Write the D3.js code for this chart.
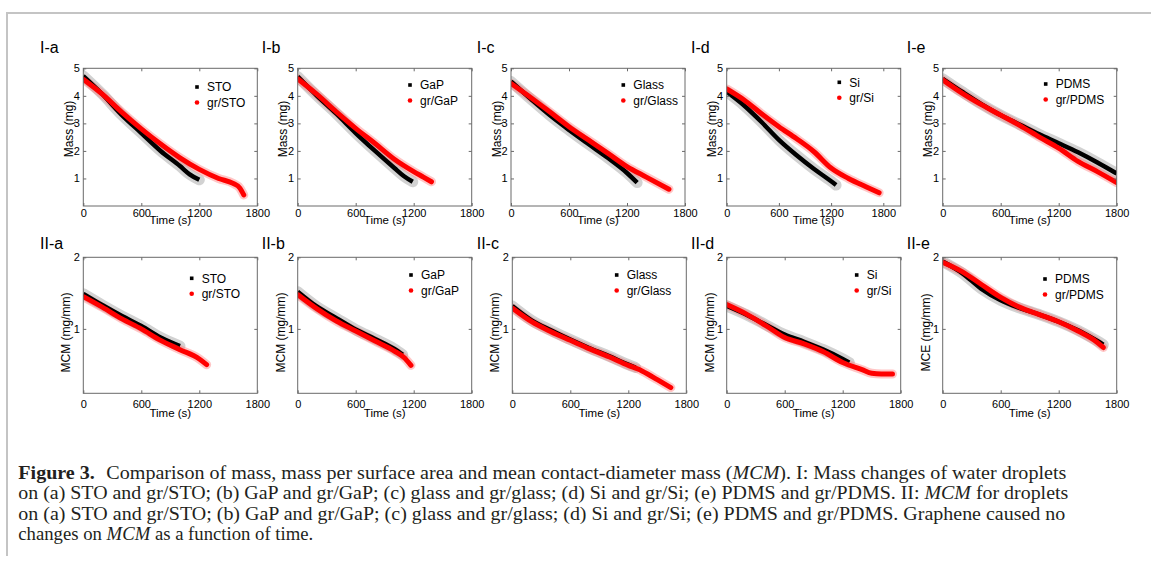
<!DOCTYPE html>
<html>
<head>
<meta charset="utf-8">
<script src="https://cdn.jsdelivr.net/npm/d3@7"></script>
<style>
  body { margin: 0; background: #fff; }
  svg { display: block; }
</style>
</head>
<body>
<svg id="fig" width="1151" height="562"></svg>
<script>
// categories and ticks
var substrates = ["STO", "GaP", "Glass", "Si", "PDMS"];
var letters = ["a", "b", "c", "d", "e"];
var massTicks = [1, 2, 3, 4, 5];
var mcmTicks = [1, 2];
var timeTicks = [0, 600, 1200, 1800];
var massTimeMax = [1800, 1800, 1800, 2000, 1800];
var mcmTimeMax = [1800, 1800, 1800, 1800, 1800];
var mcmLabels = ["MCM (mg/mm)", "MCM (mg/mm)", "MCM (mg/mm)", "MCM (mg/mm)", "MCE (mg/mm)"];

// row I: mass (mg) against time (s) as [t, value]
var massSTO     = [[0,4.72],[200,4.05],[400,3.3],[600,2.65],[800,2.0],[1000,1.45],[1100,1.15],[1200,0.95]];
var massGrSTO   = [[0,4.6],[200,4.05],[400,3.4],[600,2.8],[800,2.25],[1000,1.75],[1200,1.33],[1400,1.0],[1550,0.82],[1620,0.65],[1660,0.4]];
var massGaP     = [[0,4.7],[200,4.0],[400,3.35],[600,2.65],[800,2.0],[1000,1.38],[1100,1.08],[1190,0.88]];
var massGrGaP   = [[0,4.62],[200,4.05],[400,3.42],[600,2.82],[800,2.27],[1000,1.7],[1200,1.25],[1300,1.05],[1384,0.88]];
var massGlass   = [[0,4.52],[200,3.9],[400,3.3],[600,2.76],[800,2.25],[1000,1.75],[1200,1.2],[1305,0.85]];
var massGrGlass = [[0,4.45],[200,3.95],[400,3.42],[600,2.88],[800,2.4],[1000,1.92],[1200,1.43],[1400,1.05],[1634,0.61]];
var massSi      = [[0,4.15],[200,3.65],[400,3.05],[600,2.4],[800,1.85],[1000,1.35],[1200,0.9],[1257,0.76]];
var massGrSi    = [[0,4.25],[200,3.85],[400,3.35],[600,2.88],[800,2.45],[1000,1.98],[1200,1.38],[1400,1.0],[1600,0.7],[1752,0.48]];
var massPDMS    = [[0,4.62],[200,4.15],[400,3.7],[600,3.3],[800,2.95],[1000,2.6],[1200,2.28],[1400,1.95],[1600,1.58],[1800,1.18]];
var massGrPDMS  = [[0,4.58],[200,4.1],[400,3.68],[600,3.3],[800,2.92],[1000,2.5],[1200,2.1],[1400,1.62],[1600,1.25],[1800,0.85]];

// row II: mean contact-diameter mass (mg/mm) against time (s)
var mcmSTO      = [[0,1.49],[200,1.33],[400,1.18],[600,1.04],[800,0.88],[1000,0.76]];
var mcmGrSTO    = [[0,1.45],[200,1.3],[400,1.14],[600,1.0],[800,0.84],[1000,0.71],[1200,0.58],[1276,0.5]];
var mcmGaP      = [[0,1.52],[200,1.31],[400,1.15],[600,0.99],[800,0.86],[1000,0.72],[1086,0.64]];
var mcmGrGaP    = [[0,1.48],[200,1.28],[400,1.11],[600,0.97],[800,0.83],[1000,0.69],[1100,0.6],[1172,0.49]];
var mcmGlass    = [[0,1.32],[200,1.12],[400,0.98],[600,0.85],[800,0.73],[1000,0.62],[1200,0.5],[1275,0.46]];
var mcmGrGlass  = [[0,1.29],[200,1.1],[400,0.96],[600,0.84],[800,0.72],[1000,0.61],[1200,0.49],[1300,0.44],[1400,0.37],[1500,0.29],[1640,0.18]];
var mcmSi       = [[0,1.32],[200,1.2],[400,1.06],[600,0.92],[800,0.82],[1000,0.71],[1200,0.58],[1268,0.53]];
var mcmGrSi     = [[0,1.34],[200,1.21],[400,1.05],[600,0.88],[800,0.79],[1000,0.68],[1200,0.53],[1400,0.43],[1500,0.38],[1600,0.37],[1715,0.37]];
var mcePDMS     = [[0,1.94],[200,1.78],[400,1.56],[600,1.4],[800,1.29],[1000,1.2],[1200,1.1],[1400,0.98],[1600,0.83],[1661,0.78]];
var mceGrPDMS   = [[0,1.93],[200,1.8],[400,1.62],[600,1.44],[800,1.3],[1000,1.2],[1200,1.1],[1400,0.97],[1600,0.81],[1661,0.74]];

var massSeries = [[massSTO, massGrSTO], [massGaP, massGrGaP], [massGlass, massGrGlass], [massSi, massGrSi], [massPDMS, massGrPDMS]];
var mcmSeries = [[mcmSTO, mcmGrSTO], [mcmGaP, mcmGrGaP], [mcmGlass, mcmGrGlass], [mcmSi, mcmGrSi], [mcePDMS, mceGrPDMS]];

var svg = d3.select("#fig");
var sans = "'Liberation Sans', Arial, sans-serif";
var plotW = 174;

// page frame
svg.append("path")
    .attr("d", "M7,556 V13 H1151")
    .attr("fill", "none")
    .attr("stroke", "#c4c4c4")
    .attr("stroke-width", 2);

// layout of the two rows
var rows = [
  {prefix: "I", top: 68.3, height: 137.7, yDomain: [0, 5], yTicks: massTicks,
   lefts: [83.3, 297.7, 511, 726.7, 942.7], xMax: massTimeMax, series: massSeries,
   yLabels: ["Mass (mg)", "Mass (mg)", "Mass (mg)", "Mass (mg)", "Mass (mg)"],
   titleY: 53.3, xPad: 3.5, xTitleY: 224, yTitleDx: -10.5, yTitleY: 129,
   legDx: [113.7, 112.3, 112.3, 112.6, 103], legY: [87, 85, 85, 82.3, 84]},
  {prefix: "II", top: 257.3, height: 136, yDomain: [0.1, 2], yTicks: mcmTicks,
   lefts: [83.3, 297.7, 512.3, 726.7, 942.7], xMax: mcmTimeMax, series: mcmSeries,
   yLabels: mcmLabels,
   titleY: 249.3, xPad: 6.5, xTitleY: 417, yTitleDx: -13, yTitleY: 332.5,
   legDx: [108.4, 113.3, 104.4, 130, 102.3], legY: [278.3, 275, 275, 275, 279]}
];
var titleX = [40, 261.7, 476.7, 691, 906.7];

rows.forEach(function(row, ri){
  row.lefts.forEach(function(left, i){
    var g = svg.append("g").attr("transform", "translate(" + left + "," + row.top + ")");
    var x = d3.scaleLinear().domain([0, row.xMax[i]]).range([0, plotW]);
    var y = d3.scaleLinear().domain(row.yDomain).range([row.height, 0]);

    //clip for the data bands
    var clipId = "clip" + ri + i;
    g.append("clipPath").attr("id", clipId)
      .append("rect").attr("width", plotW).attr("height", row.height);

    var line = d3.line()
                 .x(function(d){ return x(d[0]); })
                 .y(function(d){ return y(d[1]); })
                 .curve(d3.curveMonotoneX);

    var data = g.append("g").attr("clip-path", "url(#" + clipId + ")");
    var sub = row.series[i][0], gr = row.series[i][1];
    // error halos, then the mean curves
    data.append("path").attr("d", line(sub))
        .attr("fill", "none").attr("stroke", "#8f8f8f").attr("stroke-opacity", 0.4)
        .attr("stroke-width", 11).attr("stroke-linecap", "round");
    data.append("path").attr("d", line(gr))
        .attr("fill", "none").attr("stroke", "#ff7070").attr("stroke-opacity", 0.4)
        .attr("stroke-width", 9).attr("stroke-linecap", "round");
    data.append("path").attr("d", line(sub))
        .attr("fill", "none").attr("stroke", "#000")
        .attr("stroke-width", 4.5);
    data.append("path").attr("d", line(gr))
        .attr("fill", "none").attr("stroke", "#ff0000")
        .attr("stroke-width", 5).attr("stroke-linecap", "round");

    //box
    g.append("rect")
      .attr("width", plotW).attr("height", row.height)
      .attr("fill", "none").attr("stroke", "#6a6a6a").attr("stroke-width", 1);

    //axes with inward ticks
    var fmt = d3.format("d");
    var xb = g.append("g").attr("transform", "translate(0," + row.height + ")")
              .call(d3.axisBottom(x).tickValues(timeTicks).tickFormat(fmt).tickSizeInner(-3).tickSizeOuter(0).tickPadding(row.xPad));
    var xt = g.append("g")
              .call(d3.axisTop(x).tickValues(timeTicks).tickSizeInner(-3).tickSizeOuter(0).tickFormat(""));
    var yl = g.append("g")
              .call(d3.axisLeft(y).tickValues(row.yTicks).tickFormat(fmt).tickSizeInner(-3).tickSizeOuter(0).tickPadding(3.5));
    var yr = g.append("g").attr("transform", "translate(" + plotW + ",0)")
              .call(d3.axisRight(y).tickValues(row.yTicks).tickSizeInner(-3).tickSizeOuter(0).tickFormat(""));
    [xb, xt, yl, yr].forEach(function(a){
      a.select(".domain").remove();
      a.selectAll(".tick line").attr("stroke", "#6a6a6a");
      a.selectAll("text").attr("font-family", sans).attr("font-size", 11).attr("fill", "#000");
    });

    //axis titles
    g.append("text")
      .attr("x", plotW / 2).attr("y", row.xTitleY - row.top)
      .attr("text-anchor", "middle")
      .attr("font-family", sans).attr("font-size", 11.5)
      .text("Time (s)");
    g.append("text")
      .attr("transform", "translate(" + row.yTitleDx + "," + (row.yTitleY - row.top) + ") rotate(-90)")
      .attr("text-anchor", "middle")
      .attr("font-family", sans).attr("font-size", 12)
      .text(row.yLabels[i]);

    //legend
    var lx = row.legDx[i], ly = row.legY[i] - row.top;
    g.append("rect").attr("x", lx - 1.8).attr("y", ly - 1.8).attr("width", 3.6).attr("height", 3.6).attr("fill", "#000");
    g.append("circle").attr("cx", lx).attr("cy", ly + 15.5).attr("r", 2.3).attr("fill", "#ff0000");
    g.append("text").attr("x", lx + 10).attr("y", ly + 4.5)
      .attr("font-family", sans).attr("font-size", 12).text(substrates[i]);
    g.append("text").attr("x", lx + 10).attr("y", ly + 20)
      .attr("font-family", sans).attr("font-size", 12).text("gr/" + substrates[i]);

    //panel title
    svg.append("text")
      .attr("x", titleX[i]).attr("y", row.titleY)
      .attr("font-family", sans).attr("font-size", 16)
      .text(row.prefix + "-" + letters[i]);
  });
});

// caption
var serif = "'Liberation Serif', 'Times New Roman', serif";
var capLines = [
  [{t: "Figure 3.", b: true}, {t: " Comparison of mass, mass per surface area and mean contact-diameter mass (", dx: 6}, {t: "MCM", i: true}, {t: "). I: Mass changes of water droplets"}],
  [{t: "on (a) STO and gr/STO; (b) GaP and gr/GaP; (c) glass and gr/glass; (d) Si and gr/Si; (e) PDMS and gr/PDMS. II: "}, {t: "MCM", i: true}, {t: " for droplets"}],
  [{t: "on (a) STO and gr/STO; (b) GaP and gr/GaP; (c) glass and gr/glass; (d) Si and gr/Si; (e) PDMS and gr/PDMS. Graphene caused no"}],
  [{t: "changes on "}, {t: "MCM", i: true}, {t: " as a function of time."}]
];
var capLengths = [1048, 1050, 1047, 295];
capLines.forEach(function(parts, li){
  var t = svg.append("text")
             .attr("x", 18.3).attr("y", 478.5 + li * 20.5)
             .attr("font-family", serif).attr("font-size", 18.5)
             .attr("fill", "#231f20")
             .attr("textLength", capLengths[li])
             .attr("lengthAdjust", "spacingAndGlyphs");
  parts.forEach(function(p){
    var s = t.append("tspan").text(p.t);
    if (p.b) s.attr("font-weight", "bold");
    if (p.i) s.attr("font-style", "italic");
    if (p.dx) s.attr("dx", p.dx);
  });
});
</script>
</body>
</html>
